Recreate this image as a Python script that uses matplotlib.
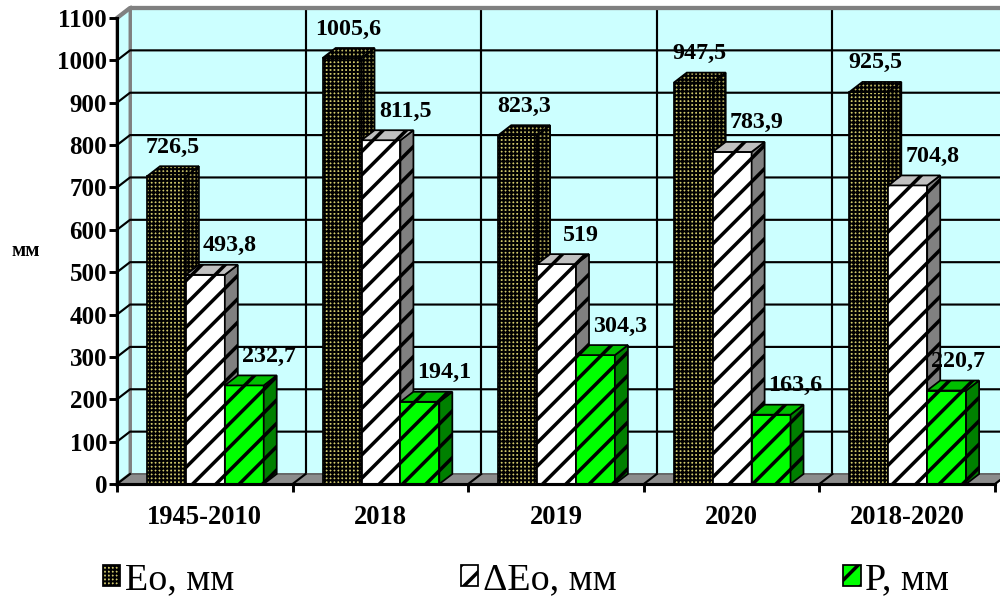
import numpy as np
import matplotlib.pyplot as plt
from matplotlib.patches import Polygon, Patch
from matplotlib.legend_handler import HandlerPatch

categories = ['1945-2010', '2018', '2019', '2020', '2018-2020']
eo = [726.5, 1005.6, 823.3, 947.5, 925.5]
d_eo = [493.8, 811.5, 519.0, 783.9, 704.8]
p = [232.7, 194.1, 304.3, 163.6, 220.7]
series = [eo, d_eo, p]
names = ['Eo, мм', 'ΔEo, мм', 'P, мм']
y_ticks = list(range(0, 1101, 100))

DPI = 140
def pt(px):
    return px * 72 / DPI

plt.rcParams['font.family'] = ['Liberation Serif', 'DejaVu Serif']
plt.rcParams['hatch.linewidth'] = 1.8

per_patch_hatch = hasattr(Patch, 'set_hatch_linewidth')

# front, side, top colours + hatch for each series
styles = [
    dict(front='#d0c86c', side='#aaa254', top='#bcb460',
         hatch='++++++' if per_patch_hatch else '++++', hlw=1.05),
    dict(front='#ffffff', side='#808080', top='#c0c0c0', hatch='//', hlw=1.8),
    dict(front='#00ff00', side='#008000', top='#00c000', hatch='//', hlw=1.8),
]
label_dx = [0, 18, 18]   # px nudge of value labels, per series

def set_hlw(patch, lw):
    if per_patch_hatch:
        patch.set_hatch_linewidth(lw)


class HatchHandler(HandlerPatch):
    def __init__(self, hlw):
        super().__init__()
        self.hlw = hlw

    def create_artists(self, *args, **kwargs):
        arts = super().create_artists(*args, **kwargs)
        for a in arts:
            set_hlw(a, self.hlw)
        return arts


fig = plt.figure(figsize=(1000 / DPI, 601 / DPI), dpi=DPI)
ax = fig.add_axes([0.117, 1 - 484 / 601, 0.878, 466 / 601])
ax.set_xlim(0, 5)
ax.set_ylim(0, 1100)

# depth of the pseudo-3d view in data units
dx = 13 / 175.6
dy = 10 / (466 / 1100)
ymax = 1100
ncat = len(categories)

# walls and floor
wall_kw = dict(facecolor='#ccffff', edgecolor='#808080', lw=1.5, clip_on=False, zorder=0)
ax.add_patch(Polygon([(dx, dy), (ncat + dx, dy), (ncat + dx, ymax + dy), (dx, ymax + dy)], **wall_kw))
ax.add_patch(Polygon([(0, 0), (dx, dy), (dx, ymax + dy), (0, ymax)], **wall_kw))
for v in y_ticks[1:-1]:
    ax.plot([0, dx, ncat + dx], [v, v + dy, v + dy], color='black', lw=1.1, clip_on=False, zorder=1)
for k in range(1, ncat + 1):
    ax.plot([k + dx, k + dx], [dy, ymax + dy], color='black', lw=1.1, clip_on=False, zorder=1)
ax.plot([0, dx, ncat + dx], [ymax, ymax + dy, ymax + dy], color='#808080', lw=2.2, clip_on=False, zorder=1.5)
ax.add_patch(Polygon([(0, 0), (ncat, 0), (ncat + dx, dy), (dx, dy)], facecolor='#8c8c8c',
                     edgecolor='#606060', lw=0.8, clip_on=False, zorder=1.6))
for k in range(ncat + 1):
    ax.plot([k, k + dx], [0, dy], color='black', lw=1.1, clip_on=False, zorder=1.7)

# bars
offset = 0.171
w = 0.2215
for i in range(ncat):
    for j, vals in enumerate(series):
        st = styles[j]
        v = vals[i]
        x0 = i + offset + j * w
        z = 3 + i + j * 0.1
        bars = ax.bar(x0, v, w, align='edge', color=st['front'], edgecolor='black', lw=0.9,
                      hatch=st['hatch'], zorder=z)
        for b in bars:
            set_hlw(b, st['hlw'])
        side = [(x0 + w, 0), (x0 + w + dx, dy), (x0 + w + dx, v + dy), (x0 + w, v)]
        top = [(x0, v), (x0 + w, v), (x0 + w + dx, v + dy), (x0 + dx, v + dy)]
        for poly, fc in [(side, st['side']), (top, st['top'])]:
            pg = Polygon(poly, facecolor=fc, edgecolor='black', lw=0.9,
                         hatch=st['hatch'], zorder=z, clip_on=False)
            set_hlw(pg, st['hlw'])
            ax.add_patch(pg)

        txt = ('%.1f' % v).rstrip('0').rstrip('.').replace('.', ',')
        cx = x0 + (w + dx) / 2
        base_x = ax.transData.transform((cx, 0))[0]
        px_x = min(base_x + label_dx[j], 958)
        ax.annotate(txt, xy=(cx, v + dy), xytext=(px_x - base_x, 19),
                    textcoords='offset pixels', ha='center', va='center',
                    fontsize=pt(24), fontweight='bold', zorder=20, annotation_clip=False)

# axes
for s in ['top', 'right']:
    ax.spines[s].set_visible(False)
for s in ['left', 'bottom']:
    ax.spines[s].set_linewidth(1.6)
    ax.spines[s].set_zorder(30)
ax.set_yticks(y_ticks)
ax.set_yticklabels([str(t) for t in y_ticks], fontsize=pt(25), fontweight='bold')
ax.tick_params(axis='y', length=pt(8), width=1.5, pad=1)
ax.set_xticks(range(ncat + 1))
ax.set_xticklabels([])
ax.set_xticks([k + 0.5 for k in range(ncat)], minor=True)
ax.set_xticklabels(categories, minor=True, fontsize=pt(26.5), fontweight='bold')
ax.tick_params(axis='x', which='major', length=pt(8), width=1.5)
ax.tick_params(axis='x', which='minor', length=0, pad=pt(21))
ax.patch.set_visible(False)

fig.text(0.026, 1 - 251 / 601, 'мм', ha='center', va='center', fontsize=pt(21), fontweight='bold')

handles = []
hmap = {}
for st in styles:
    hp = Patch(facecolor=st['front'], edgecolor='black', hatch=st['hatch'], lw=0.9)
    handles.append(hp)
    hmap[hp] = HatchHandler(st['hlw'])
fig.legend(handles, names, ncol=3, mode='expand', loc='center', handler_map=hmap,
           bbox_to_anchor=(0.103, 0.005, 0.846, 0.06), frameon=False,
           fontsize=pt(38), handlelength=0.45, handleheight=0.45, handletextpad=0.12,
           borderpad=0, borderaxespad=0)

fig.savefig('out.png', dpi=DPI)
